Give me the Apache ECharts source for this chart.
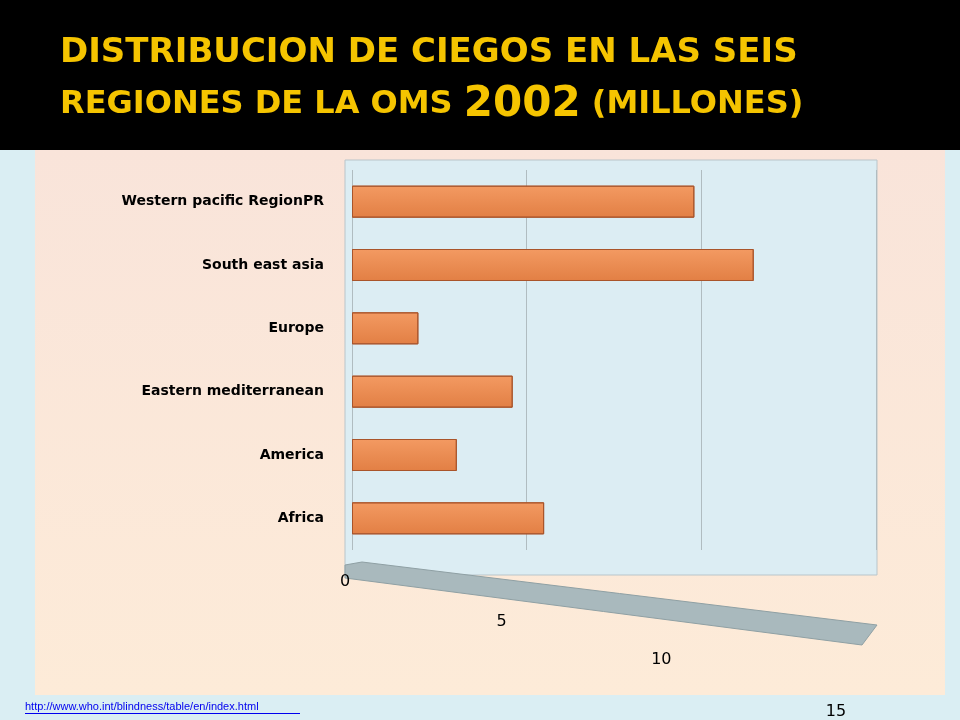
<!DOCTYPE html>
<html><head><meta charset="utf-8">
<script src="https://cdn.jsdelivr.net/npm/echarts@6/dist/echarts.min.js"></script>
<style>html,body{margin:0;padding:0;background:#daeef3}#c{width:960px;height:720px}</style>
</head><body><div id="c"></div>
<script>
const categories = ['Africa','America','Eastern mediterranean','Europe','South east asia','Western pacific RegionPR'];
const values = [5.5, 3.0, 4.6, 1.9, 11.5, 9.8];
const ticks = [0,5,10,15];
const chart = echarts.init(document.getElementById('c'));
const ts = {fill:'#f5c400',textShadowColor:'#5a3e00',textShadowOffsetX:2,textShadowOffsetY:2};
chart.setOption({
  backgroundColor:'#daeef3',
  graphic:[
    {type:'rect',shape:{x:0,y:0,width:960,height:150},style:{fill:'#000'}},
    {type:'rect',shape:{x:35,y:150,width:910,height:545},style:{fill:new echarts.graphic.LinearGradient(0,0,0,1,[{offset:0,color:'#f9e4da'},{offset:1,color:'#fdebd8'}])}},
    {type:'rect',shape:{x:345,y:160,width:532,height:415},style:{fill:'#dcedf3',stroke:'#b9c5ca'}},
    {type:'polygon',shape:{points:[[345,565],[362,562],[877,625],[862,645],[345,578]]},style:{fill:'#a9b9bd',stroke:'#8fa0a4'}},
    {type:'text',left:60,top:36,style:Object.assign({text:'DISTRIBUCION DE CIEGOS EN LAS SEIS',font:'bold 34px "DejaVu Sans"'},ts)},
    {type:'text',left:60,top:84,style:{rich:{a:Object.assign({font:'bold 32px "DejaVu Sans"'},ts),b:Object.assign({font:'bold 42px "DejaVu Sans"'},ts)},text:'{a|REGIONES DE LA OMS }{b|2002}{a| (MILLONES)}'}},
    {type:'text',left:25,top:701,style:{text:'http://www.who.int/blindness/table/en/index.html',fill:'#0000ee',font:'11px "Liberation Sans"'}},
    {type:'rect',shape:{x:25,y:713,width:275,height:1},style:{fill:'#0000ee'}}
  ],
  grid:{left:352,right:84,top:170,bottom:140},
  xAxis:{type:'value',min:0,max:15,interval:5,position:'bottom',
    axisLine:{show:false},axisTick:{show:false},
    splitLine:{lineStyle:{color:'#b0bcc0'}},
    axisLabel:{color:'#000',fontSize:16,fontFamily:'DejaVu Sans',margin:24,
      formatter:v=>ticks.includes(v)?'{t'+v+'|'+v+'}':'',
      rich:{t0:{fontSize:16,padding:[0,14,0,0]},t5:{fontSize:16,padding:[40,50,0,0]},t10:{fontSize:16,padding:[78,80,0,0]},t15:{fontSize:16,padding:[130,80,0,0]}}}},
  yAxis:{type:'category',data:categories,axisLine:{show:false},axisTick:{show:false},
    axisLabel:{color:'#000',fontSize:14,fontWeight:'bold',fontFamily:'DejaVu Sans',margin:28}},
  series:[{type:'bar',data:values,barWidth:32,
    itemStyle:{color:new echarts.graphic.LinearGradient(0,0,0,1,[{offset:0,color:'#f39a62'},{offset:1,color:'#e27f44'}]),borderColor:'#a9542a',borderWidth:1}}]
});
</script></body></html>
